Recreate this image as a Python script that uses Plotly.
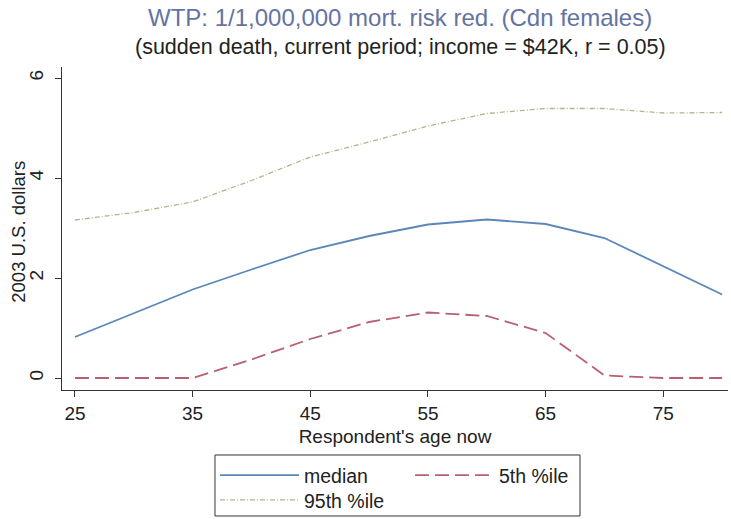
import plotly.graph_objects as go

# Respondent age grid and willingness-to-pay estimates (2003 U.S. dollars)
ages = [25, 30, 35, 40, 45, 50, 55, 60, 65, 70, 75, 80]
median_wtp = [0.82, 1.30, 1.77, 2.17, 2.56, 2.84, 3.07, 3.17, 3.08, 2.80, 2.24, 1.67]
p5_wtp = [0.0, 0.0, 0.0, 0.37, 0.78, 1.12, 1.31, 1.24, 0.90, 0.05, 0.0, 0.0]
p95_wtp = [3.16, 3.31, 3.52, 3.95, 4.42, 4.72, 5.04, 5.29, 5.39, 5.39, 5.30, 5.31]

x_ticks = [25, 35, 45, 55, 65, 75]
y_ticks = [0, 2, 4, 6]

title_text = "WTP: 1/1,000,000 mort. risk red. (Cdn females)"
subtitle_text = "(sudden death, current period; income = $42K, r = 0.05)"
y_title = "2003 U.S. dollars"
x_title = "Respondent's age now"

FONT = "Liberation Sans, Arial, Helvetica, sans-serif"
INK = "#222222"

fig = go.Figure()
fig.add_trace(go.Scatter(
    x=ages, y=median_wtp, mode="lines", name="median", legend="legend",
    line=dict(color="#5b87b8", width=1.8),
))
fig.add_trace(go.Scatter(
    x=ages, y=p5_wtp, mode="lines", name="5th %ile", legend="legend",
    line=dict(color="#b8606f", width=1.8, dash="14px,6px"),
))
fig.add_trace(go.Scatter(
    x=ages, y=p95_wtp, mode="lines", name="95th %ile", legend="legend2",
    line=dict(color="#b5b48c", width=1.3, dash="5px,2px,1px,2px"),
))

legend_common = dict(
    orientation="h", xanchor="left", yanchor="top",
    borderwidth=0, bgcolor="rgba(0,0,0,0)",
    entrywidth=101, entrywidthmode="pixels",
    itemwidth=79,
    font=dict(family=FONT, size=19.5, color=INK),
    tracegroupgap=0,
)

fig.update_layout(
    width=731, height=519,
    margin=dict(l=62, r=3, t=67, b=129, autoexpand=False),
    paper_bgcolor="white", plot_bgcolor="white",
    font=dict(family=FONT, size=19, color=INK),
    xaxis=dict(
        range=[23.9, 80.5], tickvals=x_ticks,
        showgrid=False, zeroline=False, automargin=False,
        showline=True, linecolor="#333333", linewidth=1,
        ticks="outside", ticklen=6, tickcolor="#333333",
        tickfont=dict(size=19),
        title=dict(text=x_title, font=dict(size=19), standoff=6),
    ),
    yaxis=dict(
        range=[-0.24, 6.22], tickvals=y_ticks,
        showgrid=False, zeroline=False, automargin=False,
        showline=True, linecolor="#333333", linewidth=1,
        ticks="outside", ticklen=6, tickcolor="#333333",
        tickangle=-90, tickfont=dict(size=19),
        ticklabelstandoff=4,
    ),
    legend=dict(x=0.2297, y=-0.204, **legend_common),
    legend2=dict(x=0.2297, y=-0.281, **legend_common),
    shapes=[
        dict(type="rect", xref="paper", yref="paper",
             x0=0.2297, x1=0.7778, y0=-0.2012, y1=-0.390,
             line=dict(color="#333333", width=1), fillcolor="rgba(0,0,0,0)",
             layer="below"),
    ],
    annotations=[
        dict(text=title_text, xref="paper", yref="paper", x=0.508, y=1.152,
             xanchor="center", yanchor="middle", showarrow=False,
             font=dict(family=FONT, size=24, color="#6474a2")),
        dict(text=subtitle_text, xref="paper", yref="paper", x=0.508, y=1.062,
             xanchor="center", yanchor="middle", showarrow=False,
             font=dict(family=FONT, size=21.5, color=INK)),
        dict(text=y_title, xref="paper", yref="paper", x=-0.0646, y=0.49,
             xanchor="center", yanchor="middle", textangle=-90, showarrow=False,
             font=dict(family=FONT, size=18.5, color=INK)),
    ],
)

fig.write_html("out.html")
